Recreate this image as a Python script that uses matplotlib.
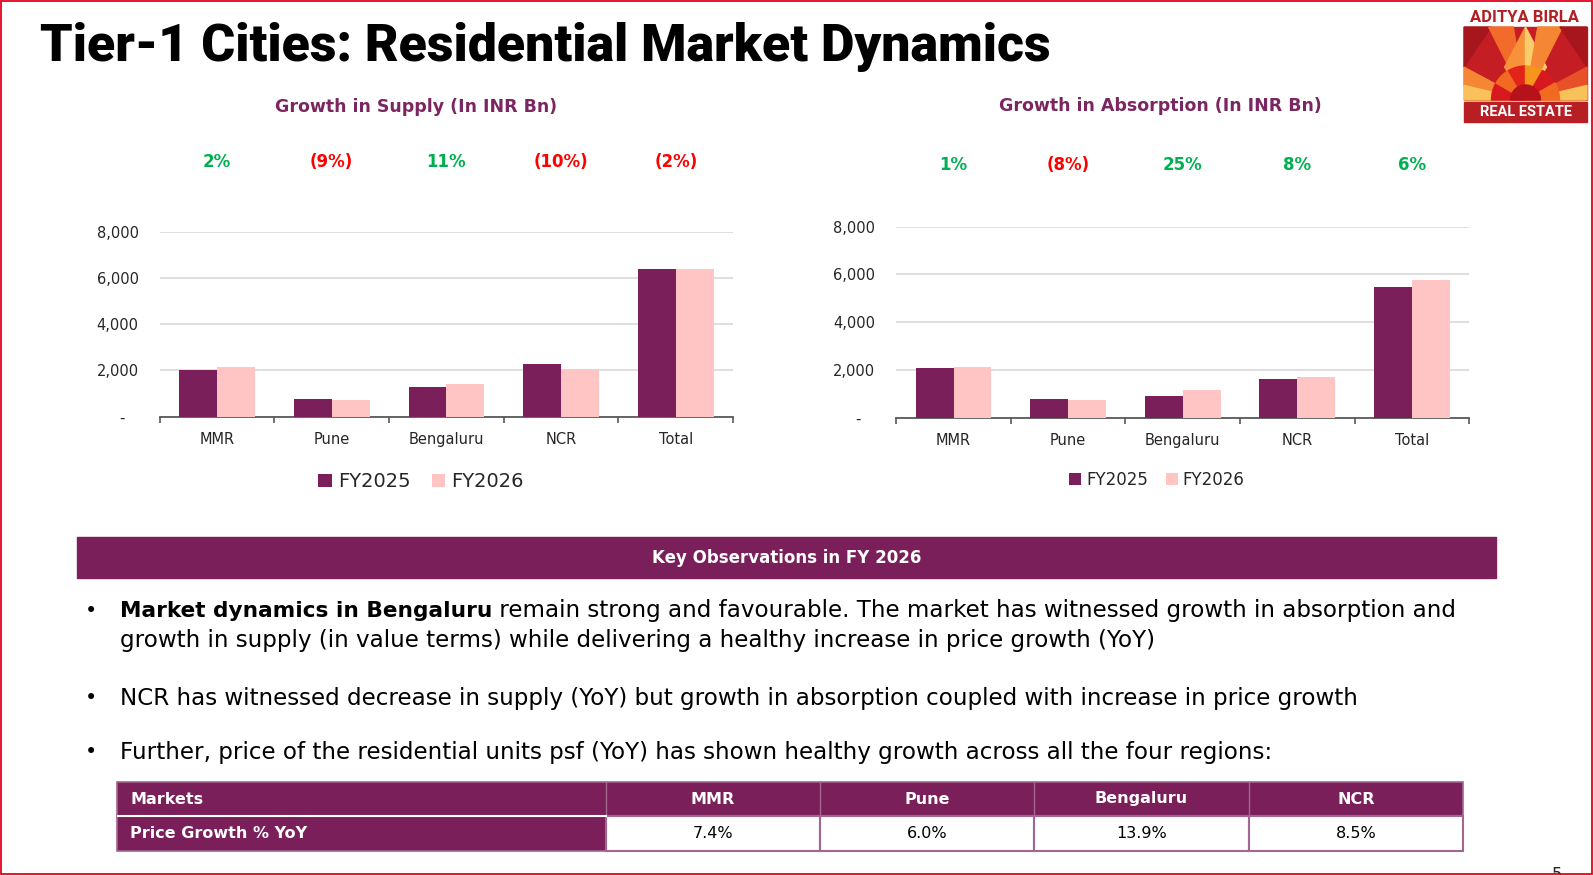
import matplotlib
matplotlib.use('Agg')
import matplotlib.pyplot as plt
from matplotlib.patches import Rectangle, Polygon, Wedge
from matplotlib.transforms import blended_transform_factory
import numpy as np

# ---------------- data ----------------
categories = ['MMR', 'Pune', 'Bengaluru', 'NCR', 'Total']
series_names = ['FY2025', 'FY2026']
supply_fy25 = [2000, 765, 1280, 2270, 6375]
supply_fy26 = [2170, 705, 1425, 2060, 6405]
supply_growth = ['2%', '(9%)', '11%', '(10%)', '(2%)']
absorption_fy25 = [2100, 785, 925, 1610, 5455]
absorption_fy26 = [2125, 725, 1150, 1720, 5775]
absorption_growth = ['1%', '(8%)', '25%', '8%', '6%']
yticks = [0, 2000, 4000, 6000, 8000]
markets = ['MMR', 'Pune', 'Bengaluru', 'NCR']
price_growth = ['7.4%', '6.0%', '13.9%', '8.5%']

title = 'Tier-1 Cities: Residential Market Dynamics'
supply_title = 'Growth in Supply (In INR Bn)'
absorption_title = 'Growth in Absorption (In INR Bn)'
band_title = 'Key Observations in FY 2026'
bullet1_bold = 'Market dynamics in Bengaluru'
bullet1_rest = ' remain strong and favourable. The market has witnessed growth in absorption and'
bullet1_line2 = 'growth in supply (in value terms) while delivering a healthy increase in price growth (YoY)'
bullet2 = 'NCR has witnessed decrease in supply (YoY) but growth in absorption coupled with increase in price growth'
bullet3 = 'Further, price of the residential units psf (YoY) has shown healthy growth across all the four regions:'

# ---------------- style ----------------
W, H = 1593, 875
C25 = '#7B1F5A'
C26 = '#FFC5C5'
PURPLE_T = '#7B2660'
GREEN = '#00B050'
RED = '#FF0000'
TXT = '#262626'
plt.rcParams['font.family'] = ['DejaVu Sans']

fig = plt.figure(figsize=(W / 100, H / 100), dpi=100)
bg = fig.add_axes([0, 0, 1, 1], zorder=0)
bg.set_xlim(0, W)
bg.set_ylim(H, 0)
bg.axis('off')


def px_rect(x0, y0, x1, y1):
    return [x0 / W, 1 - y1 / H, (x1 - x0) / W, (y1 - y0) / H]


def bar_chart(rect, fy25, fy26, growth, ctitle, title_xy, growth_y, leg_xy, leg_fs):
    ax = fig.add_axes(rect, zorder=2)
    ax.set_facecolor('none')
    x = np.arange(len(categories))
    w = 0.33
    ax.bar(x - w / 2, fy25, w, color=C25, label=series_names[0], zorder=3)
    ax.bar(x + w / 2, fy26, w, color=C26, label=series_names[1], zorder=3)
    ax.set_xlim(-0.5, len(categories) - 0.5)
    ax.set_ylim(0, 8000)
    ax.set_yticks(yticks)
    ax.set_yticklabels(['-   ' if v == 0 else f'{v:,}' for v in yticks])
    ax.yaxis.grid(True, color='#D9D9D9', lw=1.2, zorder=0)
    for s in ['top', 'right', 'left']:
        ax.spines[s].set_visible(False)
    ax.spines['bottom'].set_color('#595959')
    ax.spines['bottom'].set_linewidth(1.3)
    ax.tick_params(axis='y', length=0, pad=15, labelsize=10.5, labelcolor=TXT)
    ax.set_xticks(np.arange(-0.5, len(categories), 1.0))
    ax.set_xticklabels([])
    ax.tick_params(axis='x', which='major', length=4, width=1.2, color='#595959', direction='out')
    ax.set_xticks(x, minor=True)
    ax.set_xticklabels(categories, minor=True)
    ax.tick_params(axis='x', which='minor', length=0, pad=11, labelsize=10.5, labelcolor=TXT)
    # chart title
    bg.text(title_xy[0], title_xy[1], ctitle, ha='center', va='center', fontsize=12.5,
            fontweight='bold', color=PURPLE_T)
    # growth labels
    tr = blended_transform_factory(ax.transData, bg.transData)
    for xi, g in zip(x, growth):
        col = RED if g.startswith('(') else GREEN
        ax.text(xi, growth_y, g, transform=tr, ha='center', va='center', fontsize=12,
                fontweight='bold', color=col)
    leg = ax.legend(loc='center', bbox_to_anchor=(leg_xy[0] / W, 1 - leg_xy[1] / H),
                    bbox_transform=fig.transFigure, ncol=2, frameon=False,
                    fontsize=leg_fs, handlelength=0.7, handleheight=0.7,
                    handletextpad=0.3, columnspacing=1.1)
    for t in leg.get_texts():
        t.set_color(TXT)
    return ax


bar_chart(px_rect(159.6, 231.7, 733.2, 416.7), supply_fy25, supply_fy26, supply_growth,
          supply_title, (416, 107), 162, (421, 482), 14)
bar_chart(px_rect(896.2, 226.7, 1469.2, 417.7), absorption_fy25, absorption_fy26,
          absorption_growth, absorption_title, (1160, 106), 165, (1157, 480), 12)

# ---------------- title ----------------
bg.text(40, 61, title, ha='left', va='baseline', fontsize=37.4, fontweight=900,
        family=['Roboto', 'DejaVu Sans'], color='black')

# ---------------- logo ----------------
lx0, ly0, lx1, ly1 = 1464, 27, 1587, 100
lw_, lh_ = lx1 - lx0, ly1 - ly0


def L(u, v):
    return (lx0 + u * lw_, ly0 + v * lh_)


bg.add_patch(Rectangle((lx0, ly0), lw_, lh_, color='#C41E24', zorder=1))
logo_polys = [
    ([(0, 0), (0.22, 0), (0, 0.55)], '#A6161C'),
    ([(0.2, 0), (0.4, 0), (0.5, 1)], '#F26B2A'),
    ([(0.5, 0), (0.5, 1), (0.33, 0.55)], '#F7923A'),
    ([(0.5, 0), (0.67, 0.55), (0.5, 1)], '#F9CB6B'),
    ([(0.6, 0), (0.8, 0), (0.5, 1)], '#F58634'),
    ([(1, 0), (0.78, 0), (1, 0.55)], '#A6161C'),
    ([(0, 0.55), (0.5, 1), (0, 0.8)], '#F58634'),
    ([(0, 0.8), (0.5, 1), (0, 1)], '#F9C15A'),
    ([(1, 0.55), (0.5, 1), (1, 0.8)], '#E8502A'),
    ([(1, 0.8), (0.5, 1), (1, 1)], '#F9C15A'),
]
for pts, col in logo_polys:
    bg.add_patch(Polygon([L(u, v) for u, v in pts], closed=True, color=col, zorder=2))
cx, cy = L(0.5, 1.0)
sun_cols = ['#D7191F', '#F26A21', '#E2231A', '#F7941D', '#D7191F', '#F26A21']
for i, col in enumerate(sun_cols):
    a0 = 180 + i * 30
    bg.add_patch(Wedge((cx, cy), 34, a0, a0 + 30, color=col, zorder=3))
bg.add_patch(Wedge((cx, cy), 15, 180, 360, color='#B5121B', zorder=4))
bg.add_patch(Rectangle((lx0, 102), lw_, 20, color='#B81F25', zorder=1))
bg.text((lx0 + lx1) / 2, 112.5, 'REAL ESTATE', ha='center', va='center', color='white',
        fontsize=10.5, fontweight='bold', family=['Roboto', 'DejaVu Sans'], zorder=5)
bg.text(1525, 17, 'ADITYA BIRLA', ha='center', va='center', color='#B21F24',
        fontsize=12, fontweight='bold', family=['Roboto', 'DejaVu Sans'], zorder=5)

# ---------------- key observations band ----------------
bg.add_patch(Rectangle((77, 537), 1496 - 77, 41, color=C25, zorder=1))
bg.text(787, 558, band_title, ha='center', va='center', color='white', fontsize=12,
        fontweight='bold', zorder=2)

BFS = 16.6
for yb in (611, 698, 752):
    bg.text(85, yb, '•', ha='left', va='center', fontsize=15, color='black')
t1 = bg.text(120, 611, bullet1_bold, ha='left', va='center', fontsize=15.6,
             fontweight='bold', color='black')
fig.canvas.draw()
r = fig.canvas.get_renderer()
bb = t1.get_window_extent(renderer=r)
x_end = bb.x1 * W / fig.bbox.width
bg.text(x_end, 611, bullet1_rest, ha='left', va='center', fontsize=BFS, color='black')
bg.text(120, 640, bullet1_line2, ha='left', va='center', fontsize=BFS, color='black')
bg.text(120, 698, bullet2, ha='left', va='center', fontsize=BFS, color='black')
bg.text(120, 752, bullet3, ha='left', va='center', fontsize=BFS, color='black')

# ---------------- table ----------------
col_x = [117, 606, 820, 1034, 1249, 1463]
row_y = [782, 816, 851]
BORDER = '#A2678F'
bg.add_patch(Rectangle((col_x[0], row_y[0]), col_x[-1] - col_x[0], row_y[1] - row_y[0],
                       facecolor=C25, edgecolor=BORDER, lw=1.2, zorder=1))
bg.add_patch(Rectangle((col_x[0], row_y[1]), col_x[1] - col_x[0], row_y[2] - row_y[1],
                       facecolor=C25, edgecolor=BORDER, lw=1.2, zorder=1))
for i in range(1, 5):
    bg.add_patch(Rectangle((col_x[i], row_y[1]), col_x[i + 1] - col_x[i], row_y[2] - row_y[1],
                           facecolor='white', edgecolor=BORDER, lw=1.5, zorder=1))
for i in range(1, 5):
    bg.plot([col_x[i], col_x[i]], [row_y[0], row_y[1]], color=BORDER, lw=1.0, zorder=2)
bg.plot([col_x[0] + 1, col_x[1]], [row_y[1], row_y[1]], color='white', lw=1.5, zorder=2)
ymid0 = (row_y[0] + row_y[1]) / 2
ymid1 = (row_y[1] + row_y[2]) / 2
bg.text(130, ymid0, 'Markets', ha='left', va='center', color='white', fontsize=11.5,
        fontweight='bold', zorder=3)
bg.text(130, ymid1, 'Price Growth % YoY', ha='left', va='center', color='white', fontsize=11.5,
        fontweight='bold', zorder=3)
for i, (m, v) in enumerate(zip(markets, price_growth)):
    xc = (col_x[i + 1] + col_x[i + 2]) / 2
    bg.text(xc, ymid0, m, ha='center', va='center', color='white', fontsize=11.5,
            fontweight='bold', zorder=3)
    bg.text(xc, ymid1, v, ha='center', va='center', color='black', fontsize=11.5, zorder=3)

# page number and border
bg.text(1557, 866, '5', ha='center', va='top', fontsize=12, color=TXT)
bg.add_patch(Rectangle((1, 1), W - 2.5, H - 2.5, fill=False, edgecolor='#E5001A', lw=1.3,
                       zorder=10))

fig.savefig('out.png', dpi=100)
